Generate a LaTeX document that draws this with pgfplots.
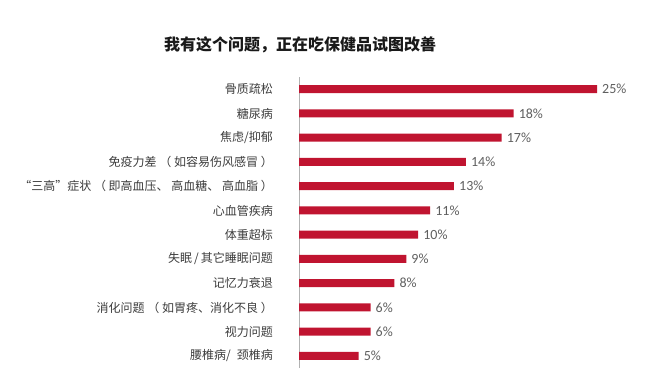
\documentclass[border=0pt]{standalone}
\usepackage{fontspec}
\usepackage{pgfplots}
\usepackage{pgfplotstable}
\pgfplotsset{compat=1.18}
\setmainfont{Noto Sans CJK SC}
\newfontfamily\numfont{Carlito}
\definecolor{barred}{RGB}{192,20,48}
\definecolor{labgray}{RGB}{60,60,60}
\definecolor{valgray}{RGB}{95,95,95}
\pgfplotstableread{
y v
0 5
1 6
2 6
3 8
4 9
5 10
6 11
7 13
8 14
9 17
10 18
11 25
}\datatable
\begin{document}
\begin{tikzpicture}[x=1pt,y=1pt]
\useasboundingbox (0,0) rectangle (653,382);
\begin{axis}[
  at={(299pt,13.9pt)}, anchor=south west,
  scale only axis, width=345.68pt, height=291pt,
  xmin=0, xmax=29, ymin=-0.5, ymax=11.5,
  xbar, bar width=8pt,
  axis x line=none, axis y line*=left,
  y axis line style={draw=gray!60, line width=0.6pt},
  ytick={0,...,11}, major tick length=0pt,
  yticklabels={{腰椎病/\hspace{6pt}颈椎病},{视力问题},{消化问题 （ 如胃疼、消化不良 ）},{记忆力衰退},{失眠\,/\,其它睡眠问题},{体重超标},{心血管疾病},{“三高”症状 （ 即高血压、 高血糖、 高血脂 ）},{免疫力差 （ 如容易伤风感冒 ）},{焦虑/抑郁},{糖尿病},{骨质疏松}},
  yticklabel style={font=\fontsize{12}{14}\selectfont, text=labgray, inner sep=0pt, xshift=-26pt},
  point meta=x,
  /pgf/number format/assume math mode=true,
  nodes near coords={\pgfmathprintnumber{\pgfplotspointmeta}\%},
  nodes near coords style={font=\numfont\fontsize{14}{16}\selectfont, text=valgray, anchor=west, inner sep=0pt, xshift=5pt},
  clip=false,
]
\addplot[fill=barred, draw=none] table[x=v, y=y] {\datatable};
\end{axis}
\node[font=\bfseries\fontsize{16}{18}\selectfont, text=black!90] at (300,337) {我有这个问题，正在吃保健品试图改善};
\end{tikzpicture}
\end{document}
